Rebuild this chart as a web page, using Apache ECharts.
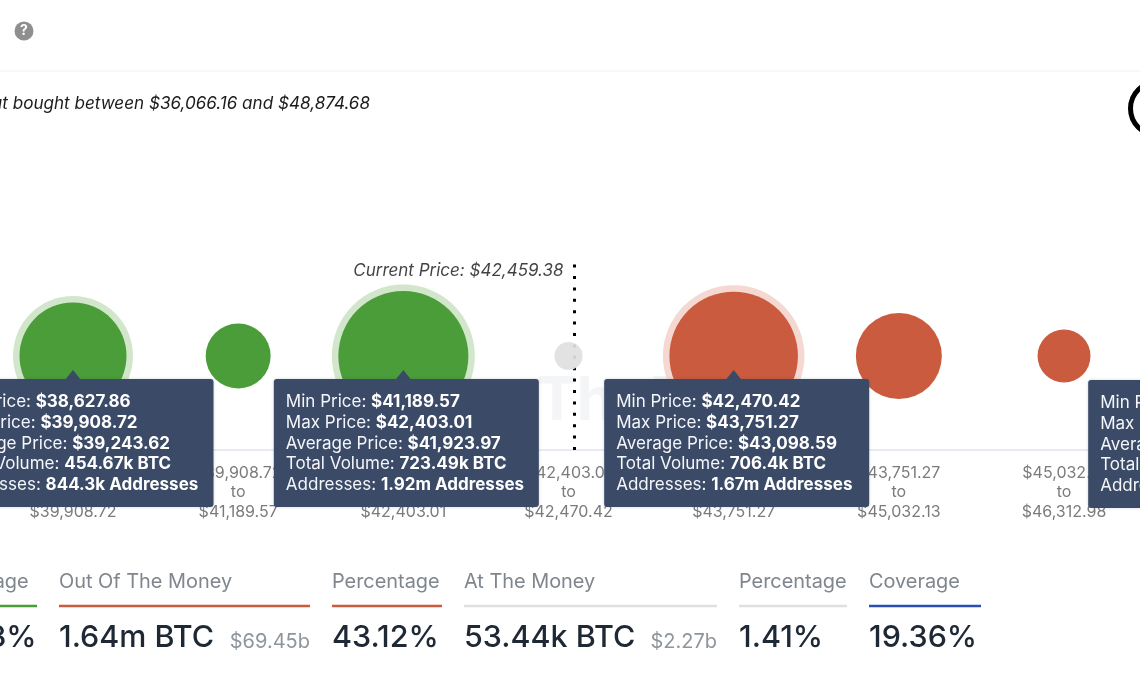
<!DOCTYPE html>
<html>
<head>
<meta charset="utf-8">
<style>html,body{margin:0;padding:0;background:#fff;overflow:hidden}#c{width:1140px;height:694px}</style>
<script src="https://cdn.jsdelivr.net/npm/echarts@6/dist/echarts.min.js"></script>
</head>
<body>
<div id="c"></div>
<script>
// ---- data ----
const priceFrom = [38627.86, 39908.72, 41189.57, 42403.01, 42470.42, 43751.27, 45032.13, 46312.98];
const priceTo   = [39908.72, 41189.57, 42403.01, 42470.42, 43751.27, 45032.13, 46312.98, 47593.83];
const volumeK   = [454.67, 241, 723.49, 53.44, 706.4, 348, 180, null];
const moneyState = ['in', 'in', 'in', 'at', 'out', 'out', 'out', 'out'];
const currentPrice = 42459.38;
const subtitle = 'Showing addresses that bought between $36,066.16 and $48,874.68';

const tipBucket  = [0, 2, 4, 7];
const tipMin     = ['$38,627.86', '$41,189.57', '$42,470.42', '$46,312.98'];
const tipMax     = ['$39,908.72', '$42,403.01', '$43,751.27', '$47,593.83'];
const tipAvg     = ['$39,243.62', '$41,923.97', '$43,098.59', ''];
const tipVol     = ['454.67k BTC', '723.49k BTC', '706.4k BTC', ''];
const tipAddr    = ['844.3k Addresses', '1.92m Addresses', '1.67m Addresses', ''];
const tipLabels  = ['Min Price: ', 'Max Price: ', 'Average Price: ', 'Total Volume: ', 'Addresses: '];

const statLabels = ['Percentage', 'Out Of The Money', 'Percentage', 'At The Money', 'Percentage', 'Coverage'];
const statValues = ['55.43%', '1.64m BTC', '43.12%', '53.44k BTC', '1.41%', '19.36%'];
const statSub    = ['', '$69.45b', '', '$2.27b', '', ''];

// ---- styling ----
const FONT = 'Inter, "Noto Sans", sans-serif';
const COL = {
  in: '#4a9d39', inHalo: '#d2e6cc', out: '#cb5b3f', outHalo: '#f4d8d1', at: '#e0e0e1',
  box: '#3b4a66', axis: '#e1e5ef', tick: '#7b7b7b'
};
const fill = {in: COL.in, out: COL.out, at: COL.at};
const halo = {in: COL.inHalo, out: COL.outHalo};
const tipBoxW = [275, 265, 265, 288];
const statX0 = [-79, 59, 332, 464, 739, 869];
const statValX = [-79, 59, 332, 464, 739, 869];
const statX1 = [37, 310, 442, 717, 847, 981];
const statCol = [COL.in, COL.out, COL.out, '#e0e0e0', '#e0e0e0', '#2a4fb4'];

// piecewise radius scale (volume → px radius)
const volStops = [53.44, 454.67, 723.49];
const radStops = [14, 53.5, 65];
function radius(v) {
  if (v <= volStops[1]) return echarts.number.linearMap(v, [volStops[0], volStops[1]], [radStops[0], radStops[1]]);
  return echarts.number.linearMap(v, [volStops[1], volStops[2]], [radStops[1], radStops[2]]);
}
const money = n => '$' + n.toLocaleString('en-US', {minimumFractionDigits: 2, maximumFractionDigits: 2});
const axisText = priceFrom.map((f, i) => money(f) + '\nto\n' + money(priceTo[i]));

const ROW = 0.5;
const bubbles = [], halos = [];
volumeK.forEach((v, i) => {
  if (v == null) return;
  bubbles.push({value: [i, ROW, v], itemStyle: {color: fill[moneyState[i]], opacity: moneyState[i] === 'at' ? 0.93 : 1}});
  if (tipBucket.indexOf(i) >= 0) halos.push({value: [i, ROW, v], itemStyle: {color: halo[moneyState[i]], opacity: 1}});
});

// current price sits inside its bucket; the bubble occupies about a tenth of a band
const cb = priceFrom.findIndex((f, i) => currentPrice >= f && currentPrice < priceTo[i]);
const curX = cb + ((currentPrice - priceFrom[cb]) / (priceTo[cb] - priceFrom[cb]) - 0.5) * 0.108;

function renderTip(params, api) {
  const k = params.dataIndex;
  const p = api.coord([api.value(0), ROW]);
  const w = tipBoxW[k], h = 128;
  const cx = p[0] + 3, top = p[1] + 23 + (k === 3 ? 1 : 0);
  const left = cx - w / 2;
  const vals = [tipMin[k], tipMax[k], tipAvg[k], tipVol[k], tipAddr[k]];
  const children = [
    {type: 'polygon', shape: {points: [[p[0] - 8, top + 1], [p[0], top - 9], [p[0] + 8, top + 1]]}, style: {fill: COL.box}},
    {type: 'rect', shape: {x: left, y: top, width: w, height: h, r: 3},
     style: {fill: COL.box, shadowBlur: 3, shadowColor: 'rgba(60,70,100,0.25)'}}
  ];
  tipLabels.forEach((lab, i) => {
    children.push({
      type: 'text', x: left + 12, y: top + 23 + i * 20.75,
      style: {
        text: '{a|' + lab + '}{b|' + vals[i] + '}', verticalAlign: 'middle', textVerticalAlign: 'middle',
        rich: {
          a: {fontFamily: FONT, fontSize: 17, fill: '#f4f6fa'},
          b: {fontFamily: FONT, fontSize: 17, fontWeight: 700, fill: '#ffffff'}
        }
      }
    });
  });
  return {type: 'group', children};
}

const graphics = [
  {type: 'text', z: -1, x: 429, y: 372, silent: true,
   style: {text: 'IntoTheBlock', font: '700 60px ' + FONT, fill: '#f4f5f7'}},
  {type: 'line', shape: {x1: 0, y1: 71, x2: 1140, y2: 71}, style: {stroke: '#f0f0f0', lineWidth: 1}},
  {type: 'circle', shape: {cx: 24, cy: 31, r: 9.5}, style: {fill: '#8f8f8f'}},
  {type: 'text', x: 24, y: 31, style: {text: '?', font: '700 14px ' + FONT, fill: '#fff', align: 'center', verticalAlign: 'middle'}},
  {type: 'text', x: 370, y: 104, style: {text: subtitle, font: 'italic 400 17.1px ' + FONT, fill: '#1b1b1b', align: 'right', verticalAlign: 'middle'}},
  {type: 'circle', shape: {cx: 1157, cy: 108.5, r: 26.5}, style: {fill: 'none', stroke: '#000', lineWidth: 5}}
];
statLabels.forEach((lab, i) => {
  graphics.push({type: 'text', x: statX0[i], y: 582, style: {text: lab, font: '400 19.9px ' + FONT, fill: '#7f868e', verticalAlign: 'middle'}});
  graphics.push({type: 'line', shape: {x1: statX0[i], y1: 606, x2: statX1[i], y2: 606}, style: {stroke: statCol[i], lineWidth: 2.5}});
  graphics.push({type: 'text', x: statValX[i], y: 638, style: {text: statValues[i], font: '500 30.5px ' + FONT, fill: '#1e2935', verticalAlign: 'middle'}});
  if (statSub[i]) graphics.push({type: 'text', x: statX1[i], y: 642, style: {text: statSub[i], font: '400 20px ' + FONT, fill: '#8e959c', align: 'right', verticalAlign: 'middle'}});
});

const chart = echarts.init(document.getElementById('c'), null, {renderer: 'canvas'});
chart.setOption({
  animation: false,
  backgroundColor: '#fff',
  grid: {left: -92.17, top: 262, width: 1486.53, height: 188, containLabel: false, outerBoundsMode: 'none'},
  xAxis: {
    type: 'value', min: -1, max: 8, interval: 1, z: 1,
    splitLine: {show: false}, axisTick: {show: false},
    axisLine: {show: true, lineStyle: {color: COL.axis, width: 1.5}},
    axisLabel: {
      margin: 13, color: COL.tick, fontFamily: FONT, fontSize: 16, lineHeight: 19.5, hideOverlap: false,
      formatter: v => axisText[v] || ''
    }
  },
  yAxis: {type: 'value', min: 0, max: 1, show: false},
  graphic: graphics,
  series: [
    {
      type: 'line', z: 10, symbol: 'none', silent: true,
      data: [[curX, 0], [curX, 1]],
      lineStyle: {color: '#000', width: 3, type: [3, 8.4]}
    },
    {
      type: 'scatter', z: 10, silent: true, symbolSize: 0,
      data: [[curX, 1]],
      label: {
        show: true, position: 'left', distance: 0, offset: [-11, 9],
        formatter: 'Current Price: ' + money(currentPrice),
        fontFamily: FONT, fontStyle: 'italic', fontSize: 17, color: '#111111'
      }
    },
    {
      type: 'scatter', z: 11, silent: true, data: halos,
      symbolSize: d => 2 * (radius(d[2]) + 6.5)
    },
    {
      type: 'scatter', z: 12, silent: true, data: bubbles,
      symbolSize: d => 2 * radius(d[2])
    },
    {
      type: 'custom', z: 15, silent: true, clip: false,
      encode: {x: 0, y: 1},
      data: tipBucket.map(b => [b, ROW]),
      renderItem: renderTip
    }
  ]
});
</script>
</body>
</html>
